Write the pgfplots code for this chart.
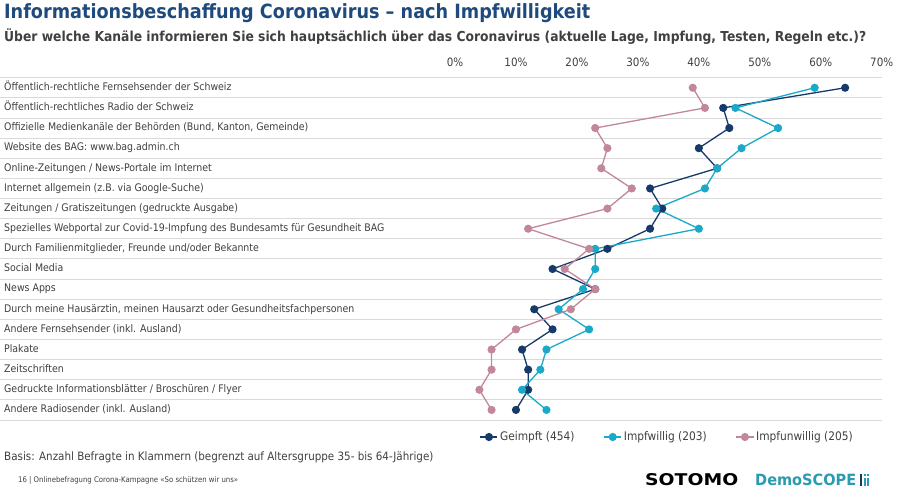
\documentclass[border=0pt]{standalone}
\usepackage{pgfplots}
\pgfplotsset{compat=1.18}
\usepackage{fontspec}
\setmainfont{DejaVu Sans Condensed}
\definecolor{navy}{HTML}{163A6A}
\definecolor{cyanc}{HTML}{1BA9C9}
\definecolor{pinkc}{HTML}{C2889A}
\definecolor{titleblue}{HTML}{1E4A7E}
\definecolor{subgray}{HTML}{404040}
\definecolor{labelgray}{HTML}{404040}
\definecolor{gridgray}{HTML}{DADADA}
\definecolor{teal}{HTML}{2A9BB0}
\begin{document}
\begin{tikzpicture}
\fill[white] (0,0) rectangle (900pt,494pt);
\path[use as bounding box] (0,0) rectangle (900pt,494pt);
\node[anchor=base west, inner sep=0, text=titleblue] at (4pt,475.7pt) {\resizebox{586pt}{!}{\bfseries\fontsize{17.8}{20}\selectfont Informationsbeschaffung Coronavirus – nach Impfwilligkeit}};
\node[anchor=base west, inner sep=0, text=subgray] at (4pt,452pt) {\resizebox{862pt}{!}{\bfseries\fontsize{12.4}{14}\selectfont Über welche Kanäle informieren Sie sich hauptsächlich über das Coronavirus (aktuelle Lage, Impfung, Testen, Regeln etc.)?}};
\begin{axis}[
  at={(0pt,416.3pt)}, anchor=north west,
  scale only axis, width=881.7pt, height=342.3pt,
  xmin=-74.64, xmax=70, ymin=-0.5, ymax=16.5, y dir=reverse,
  axis line style={draw=none}, major tick length=0pt,
  xtick={0,10,...,70},
  xticklabels={0\%,10\%,20\%,30\%,40\%,50\%,60\%,70\%},
  xticklabel pos=upper,
  xticklabel style={anchor=base, yshift=11.4pt, font=\fontsize{11.5}{13}\selectfont, text=labelgray},
  ytick={0,...,16},
  yticklabels={
    {Öffentlich-rechtliche Fernsehsender der Schweiz},
    {Öffentlich-rechtliches Radio der Schweiz},
    {Offizielle Medienkanäle der Behörden (Bund, Kanton, Gemeinde)},
    {Website des BAG: www.bag.admin.ch},
    {Online-Zeitungen / News-Portale im Internet},
    {Internet allgemein (z.B. via Google-Suche)},
    {Zeitungen / Gratiszeitungen (gedruckte Ausgabe)},
    {Spezielles Webportal zur Covid-19-Impfung des Bundesamts für Gesundheit BAG},
    {Durch Familienmitglieder, Freunde und/oder Bekannte},
    {Social Media},
    {News Apps},
    {Durch meine Hausärztin, meinen Hausarzt oder Gesundheitsfachpersonen},
    {Andere Fernsehsender (inkl. Ausland)},
    {Plakate},
    {Zeitschriften},
    {Gedruckte Informationsblätter / Broschüren / Flyer},
    {Andere Radiosender (inkl. Ausland)}},
  yticklabel style={anchor=west, inner sep=0pt, xshift=4pt, text height=7.5pt, text depth=2pt, font=\fontsize{10.45}{12}\selectfont, text=labelgray},
  extra y ticks={-0.5,0.5,...,16.5},
  extra y tick labels={},
  extra y tick style={grid=major, major grid style={draw=gridgray, line width=0.9pt}},
  clip=false,
  legend columns=3,
  legend style={at={(0.5405,-0.0497)}, anchor=west, draw=none, fill=none,
    font=\fontsize{11.8}{13}\selectfont, text=labelgray,
    /tikz/every even column/.append style={column sep=27pt}},
  every axis plot/.append style={line width=1.3pt, mark=*, mark size=3.4pt},
]
\addplot[color=navy, mark options={fill=navy}] coordinates {
(64,0) (44,1) (45,2) (40,3) (43,4) (32,5) (34,6) (32,7) (25,8) (16,9) (23,10) (13,11) (16,12) (11,13) (12,14) (12,15) (10,16)};
\addlegendentry{Geimpft (454)}
\addplot[color=cyanc, mark options={fill=cyanc}] coordinates {
(59,0) (46,1) (53,2) (47,3) (43,4) (41,5) (33,6) (40,7) (23,8) (23,9) (21,10) (17,11) (22,12) (15,13) (14,14) (11,15) (15,16)};
\addlegendentry{Impfwillig (203)}
\addplot[color=pinkc, mark options={fill=pinkc}] coordinates {
(39,0) (41,1) (23,2) (25,3) (24,4) (29,5) (25,6) (12,7) (22,8) (18,9) (23,10) (19,11) (10,12) (6,13) (6,14) (4,15) (6,16)};
\addlegendentry{Impfunwillig (205)}
\end{axis}
\node[anchor=base west, inner sep=0, font=\fontsize{11.5}{13}\selectfont, text=labelgray] at (4pt,33pt) {Basis: Anzahl Befragte in Klammern (begrenzt auf Altersgruppe 35- bis 64-Jährige)};
\node[anchor=base west, inner sep=0, font=\fontsize{7.7}{9}\selectfont, text=labelgray] at (18pt,11pt) {16 | Onlinebefragung Corona-Kampagne «So schützen wir uns»};
\node[anchor=base west, inner sep=0] at (645pt,8pt) {\resizebox{93pt}{12pt}{\bfseries SOTOMO}};
\node[anchor=base west, inner sep=0, text=teal] at (755pt,8pt) {\resizebox{101pt}{11.5pt}{\bfseries DemoSCOPE}};
\fill[navy] (860pt,8pt) rectangle (862pt,19.5pt);
\fill[teal] (863.5pt,8pt) rectangle (865.5pt,16pt);
\fill[teal] (867pt,8pt) rectangle (869pt,16pt);
\fill[teal] (863.5pt,17.5pt) rectangle (865.5pt,19.5pt);
\fill[teal] (867pt,17.5pt) rectangle (869pt,19.5pt);
\end{tikzpicture}
\end{document}
